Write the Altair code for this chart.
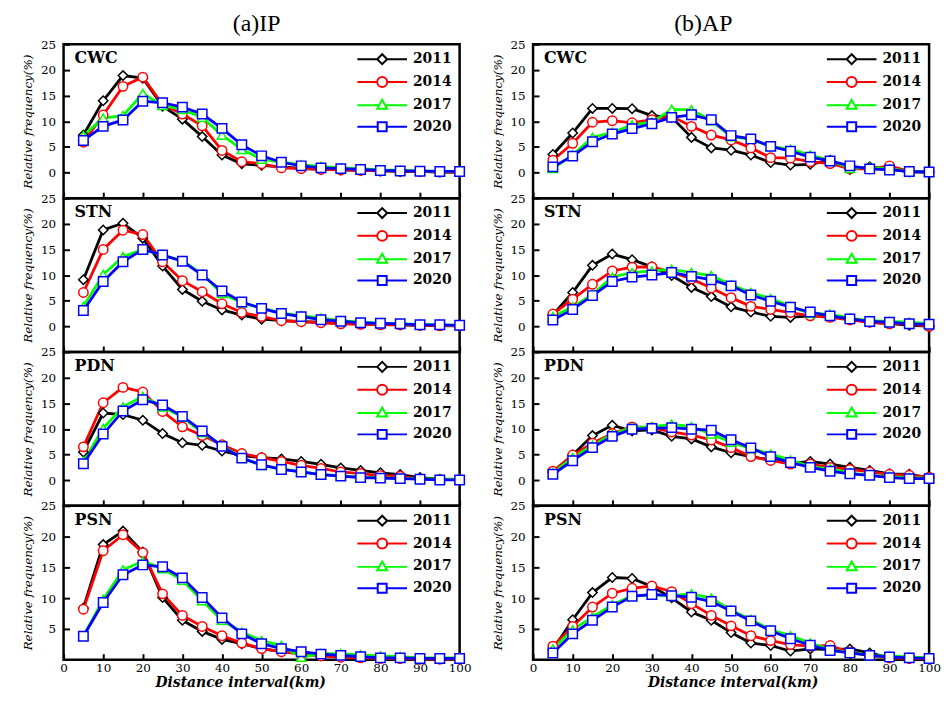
import altair as alt
import pandas as pd

# ---------------- data ----------------
distance = list(range(5, 101, 5))
years = ["2011", "2014", "2017", "2020"]
line_colors = ["#000000", "#ff0000", "#00ff00", "#0000ff"]
marker_shapes = ["diamond", "circle", "triangle-up", "square"]
x_ticks = list(range(0, 101, 10))
y_ticks_upper = [0, 5, 10, 15, 20, 25]
y_ticks_lowest = [5, 10, 15, 20, 25]
row_names = ["CWC", "STN", "PDN", "PSN"]
column_titles = ["(a)IP", "(b)AP"]

# (a) IP
ip_cwc_2011 = [7.3, 14.0, 18.9, 18.4, 12.9, 10.4, 7.0, 3.4, 1.7, 1.4, 1.1, 0.8, 0.6, 0.5, 0.4, 0.3, 0.2, 0.2, 0.1, 0.1]
ip_cwc_2014 = [5.9, 11.2, 16.8, 18.6, 13.25, 11.4, 9.1, 4.3, 2.1, 1.7, 0.9, 0.75, 0.6, 0.5, 0.4, 0.3, 0.25, 0.2, 0.1, 0.1]
ip_cwc_2017 = [7.2, 10.6, 11.1, 15.4, 13.1, 12.3, 10.75, 7.3, 4.5, 2.6, 2.0, 1.5, 1.2, 0.9, 0.75, 0.5, 0.4, 0.3, 0.2, 0.2]
ip_cwc_2020 = [6.25, 9.0, 10.25, 13.9, 13.6, 12.75, 11.4, 8.6, 5.4, 3.25, 2.0, 1.3, 0.9, 0.75, 0.6, 0.4, 0.3, 0.25, 0.2, 0.2]

ip_stn_2011 = [9.1, 18.8, 20.1, 17.2, 11.75, 7.2, 4.9, 3.2, 2.2, 1.4, 1.1, 0.9, 0.8, 0.6, 0.5, 0.4, 0.3, 0.2, 0.2, 0.1]
ip_stn_2014 = [6.6, 15.0, 18.75, 17.9, 12.6, 8.9, 6.75, 4.4, 2.7, 1.9, 1.1, 0.9, 0.7, 0.5, 0.4, 0.3, 0.3, 0.2, 0.1, 0.1]
ip_stn_2017 = [3.9, 10.1, 13.6, 15.0, 13.9, 12.8, 10.2, 6.4, 4.6, 3.6, 2.6, 2.1, 1.6, 1.1, 0.8, 0.6, 0.5, 0.4, 0.3, 0.2]
ip_stn_2020 = [3.1, 8.75, 12.6, 15.0, 13.9, 12.7, 10.0, 6.9, 4.75, 3.5, 2.5, 1.9, 1.3, 1.0, 0.7, 0.6, 0.5, 0.3, 0.3, 0.2]

ip_pdn_2011 = [5.5, 13.1, 12.8, 11.7, 9.1, 7.3, 6.8, 5.7, 4.8, 4.4, 4.15, 3.65, 3.1, 2.4, 1.9, 1.45, 1.1, 0.5, 0.2, 0.1]
ip_pdn_2014 = [6.5, 15.1, 18.1, 17.2, 13.4, 10.4, 8.7, 6.9, 5.2, 4.4, 3.65, 2.9, 2.3, 1.6, 1.3, 0.9, 0.8, 0.2, 0.1, 0.1]
ip_pdn_2017 = [3.65, 10.1, 14.3, 16.35, 14.3, 12.3, 9.3, 6.8, 4.3, 2.9, 2.2, 1.6, 1.1, 0.9, 0.6, 0.5, 0.3, 0.3, 0.2, 0.2]
ip_pdn_2020 = [3.2, 9.0, 13.5, 15.7, 14.65, 12.45, 9.6, 6.6, 4.3, 3.0, 2.1, 1.6, 1.1, 0.8, 0.5, 0.4, 0.3, 0.2, 0.05, 0.05]

ip_psn_2011 = [8.4, 18.7, 20.9, 17.5, 10.1, 6.4, 4.6, 3.3, 2.6, 1.8, 1.3, 1.0, 0.8, 0.5, 0.4, 0.3, 0.2, 0.1, 0.1, 0.1]
ip_psn_2014 = [8.2, 17.7, 20.3, 17.4, 10.7, 7.2, 5.4, 3.9, 2.7, 1.8, 1.3, 0.9, 0.6, 0.4, 0.3, 0.2, 0.2, 0.1, 0.1, 0.1]
ip_psn_2017 = [3.8, 9.8, 14.6, 16.0, 14.8, 12.9, 9.6, 6.4, 4.5, 3.1, 2.3, 0.4, 1.0, 1.0, 0.8, 0.6, 0.5, 0.3, 0.3, 0.3]
ip_psn_2020 = [3.8, 9.3, 13.8, 15.4, 15.1, 13.3, 10.1, 6.8, 4.2, 2.6, 1.8, 1.3, 0.9, 0.7, 0.5, 0.3, 0.3, 0.2, 0.2, 0.2]

# (b) AP
ap_cwc_2011 = [3.5, 7.7, 12.5, 12.5, 12.45, 11.1, 10.75, 6.85, 4.8, 4.35, 3.4, 1.95, 1.45, 1.6, 2.4, 0.6, 1.1, 0.8, 0.1, 0.1]
ap_cwc_2014 = [2.4, 5.7, 9.8, 10.1, 9.7, 10.3, 10.95, 9.0, 7.3, 6.35, 4.8, 2.9, 2.8, 2.1, 1.75, 0.7, 0.7, 1.3, 0.25, 0.1]
ap_cwc_2017 = [0.8, 3.4, 6.85, 7.8, 9.3, 9.8, 12.3, 12.2, 10.1, 7.0, 6.5, 5.1, 4.5, 3.4, 2.4, 0.8, 1.0, 0.7, 0.25, 0.1]
ap_cwc_2020 = [1.1, 3.2, 6.0, 7.5, 8.55, 9.5, 10.75, 11.25, 10.3, 7.2, 6.55, 5.1, 4.15, 3.0, 2.25, 1.3, 0.7, 0.5, 0.2, 0.1]

ap_stn_2011 = [2.25, 6.6, 11.9, 14.1, 13.0, 11.6, 9.9, 7.6, 5.8, 3.8, 2.8, 1.95, 1.75, 2.05, 2.05, 1.45, 0.8, 0.6, 0.2, 0.05]
ap_stn_2014 = [2.4, 5.3, 8.2, 10.8, 11.55, 11.6, 10.6, 9.25, 7.5, 5.6, 3.9, 3.3, 2.7, 2.05, 1.75, 1.25, 0.8, 0.5, 0.5, 0.0]
ap_stn_2017 = [1.9, 3.8, 6.25, 9.6, 10.5, 10.8, 11.1, 10.5, 9.9, 8.1, 6.6, 5.4, 3.9, 2.5, 2.4, 1.6, 1.1, 0.95, 0.8, 0.5]
ap_stn_2020 = [1.25, 3.3, 6.0, 8.75, 9.6, 10.0, 10.5, 9.75, 9.1, 7.9, 6.1, 4.9, 3.75, 2.8, 2.05, 1.45, 0.95, 0.8, 0.5, 0.4]

ap_pdn_2011 = [1.45, 4.9, 8.7, 10.7, 9.6, 9.8, 8.55, 8.05, 6.5, 5.35, 4.6, 3.95, 3.3, 3.65, 3.15, 2.5, 1.9, 1.25, 1.15, 0.5]
ap_pdn_2014 = [1.75, 4.9, 7.2, 9.1, 10.4, 10.25, 9.4, 8.8, 7.85, 6.35, 4.6, 3.85, 3.15, 3.15, 2.5, 2.1, 1.6, 1.15, 0.95, 0.6]
ap_pdn_2017 = [1.45, 4.4, 6.8, 9.0, 10.25, 10.45, 10.9, 10.45, 9.0, 7.4, 6.15, 5.1, 3.95, 2.6, 2.2, 1.45, 0.95, 0.7, 0.5, 0.4]
ap_pdn_2020 = [1.15, 3.8, 6.35, 8.55, 9.95, 10.1, 10.25, 9.95, 9.75, 7.9, 6.3, 4.6, 3.45, 2.5, 1.75, 1.25, 0.95, 0.5, 0.3, 0.3]

ap_psn_2011 = [1.65, 6.5, 10.9, 13.35, 13.2, 11.9, 10.05, 7.75, 6.4, 4.4, 2.7, 2.3, 1.4, 1.75, 1.65, 1.75, 1.1, 0.3, 0.2, 0.15]
ap_psn_2014 = [2.2, 5.4, 8.55, 10.8, 11.6, 12.0, 11.05, 9.1, 7.2, 5.5, 3.9, 3.1, 2.45, 2.2, 2.3, 1.2, 0.7, 0.3, 0.2, 0.15]
ap_psn_2017 = [1.75, 4.85, 6.95, 8.9, 10.4, 10.5, 10.4, 10.7, 10.0, 8.05, 6.55, 4.85, 3.9, 2.7, 1.65, 1.2, 0.7, 0.6, 0.45, 0.3]
ap_psn_2020 = [1.1, 4.2, 6.4, 8.55, 10.3, 10.6, 10.4, 10.15, 9.45, 7.9, 6.3, 4.7, 3.4, 2.35, 1.5, 1.1, 0.7, 0.45, 0.3, 0.2]

ip_series = [
    [ip_cwc_2011, ip_cwc_2014, ip_cwc_2017, ip_cwc_2020],
    [ip_stn_2011, ip_stn_2014, ip_stn_2017, ip_stn_2020],
    [ip_pdn_2011, ip_pdn_2014, ip_pdn_2017, ip_pdn_2020],
    [ip_psn_2011, ip_psn_2014, ip_psn_2017, ip_psn_2020],
]
ap_series = [
    [ap_cwc_2011, ap_cwc_2014, ap_cwc_2017, ap_cwc_2020],
    [ap_stn_2011, ap_stn_2014, ap_stn_2017, ap_stn_2020],
    [ap_pdn_2011, ap_pdn_2014, ap_pdn_2017, ap_pdn_2020],
    [ap_psn_2011, ap_psn_2014, ap_psn_2017, ap_psn_2020],
]

# legend symbols: a line stub with the marker in the middle
legend_shapes = [
    "M-5,0H-1M1,0H5M-1,0L0,-1L1,0L0,1Z",
    "M-5,0H-1M1,0H5M-1,0A1,1 0 1,0 1,0A1,1 0 1,0 -1,0Z",
    "M-5,0.1H-0.62M0.62,0.1H5M0,-1L1,0.8L-1,0.8Z",
    "M-5,0H-0.9M0.9,0H5M-0.9,-0.9H0.9V0.9H-0.9Z",
]

SERIF = "DejaVu Serif"
TITLE_SERIF = "Liberation Serif"
INWARD = alt.ExprRef(expr="-6")
PANEL_W = 399
PANEL_H = 155


def make_panel(name, series, bottom, col_title=None, title_dx=0, xtitle_x=200):
    rows = []
    for yr, vals in zip(years, series):
        for d, v in zip(distance, vals):
            rows.append({"distance": d, "freq": v, "year": yr})
    df = pd.DataFrame(rows)

    x_axis_kw = dict(values=x_ticks, labels=bottom, tickSize=INWARD, tickColor="black",
                     tickWidth=2, domain=False, grid=False, labelFont=SERIF,
                     labelFontSize=12, labelColor="black", labelPadding=9,
                     labelFlush=False)
    if bottom:
        x_axis_kw.update(title="Distance interval(km)", titleFont=SERIF, titleFontSize=14,
                         titleFontStyle="italic", titleFontWeight="bold", titleColor="black",
                         titlePadding=2, titleX=xtitle_x, titleAlign="center")
    x_axis = alt.Axis(**x_axis_kw)
    x_enc = alt.X("distance:Q", scale=alt.Scale(domain=[0, 100], nice=False, zero=False),
                  axis=x_axis, title="Distance interval(km)" if bottom else None)

    y_dom = [0, 25] if bottom else [-5, 25]
    y_vals = y_ticks_lowest if bottom else y_ticks_upper
    y_axis = alt.Axis(values=y_vals, tickSize=INWARD, tickColor="black", tickWidth=2,
                      domain=False, grid=False, labelFont=SERIF, labelFontSize=12,
                      labelColor="black", labelPadding=14, labelFlush=False,
                      titleFont=SERIF, titleFontSize=12, titleFontStyle="italic",
                      titleFontWeight="normal", titleColor="black", titlePadding=6)
    y_enc = alt.Y("freq:Q", scale=alt.Scale(domain=y_dom, nice=False, zero=False),
                  axis=y_axis, title="Relative frequency(%)")

    color_scale = alt.Scale(domain=years, range=line_colors)

    base = alt.Chart(df)
    lines = base.mark_line(strokeWidth=2.8).encode(
        x=x_enc, y=y_enc,
        color=alt.Color("year:N", scale=color_scale, legend=None),
        detail="year:N",
    )
    points = base.mark_point(filled=False, fill="white", size=90, strokeWidth=1.5,
                             opacity=1).encode(
        x=x_enc, y=y_enc,
        color=alt.Color("year:N", scale=color_scale, legend=None),
        shape=alt.Shape("year:N", scale=alt.Scale(domain=years, range=marker_shapes),
                        legend=None),
    )
    leg = alt.Legend(title=None, orient="top-right", offset=8, padding=0,
                     symbolSize=100, symbolStrokeWidth=2, labelFont=SERIF,
                     labelFontSize=14, labelFontWeight="bold", labelColor="black",
                     labelOffset=24, rowPadding=5)
    legend_layer = base.transform_filter("datum.freq < -100").mark_point(
        filled=False, strokeWidth=2, opacity=1).encode(
        x=x_enc, y=y_enc,
        color=alt.Color("year:N", scale=color_scale, legend=leg),
        shape=alt.Shape("year:N", scale=alt.Scale(domain=years, range=legend_shapes),
                        legend=leg),
    )
    label = alt.Chart(pd.DataFrame({"label": [name]})).mark_text(
        align="left", baseline="middle", font=SERIF, fontSize=16, fontWeight="bold",
        color="black").encode(text="label:N", x=alt.value(11), y=alt.value(14))

    props = dict(width=PANEL_W, height=PANEL_H)
    if col_title:
        props["title"] = alt.TitleParams(text=col_title, font=TITLE_SERIF, fontSize=24,
                                         fontWeight="normal", color="black",
                                         anchor="middle", frame="group", offset=2,
                                         dx=title_dx)
    return alt.layer(lines, points, legend_layer, label).resolve_scale(
        color="independent", shape="independent").properties(**props)


def make_column(series_list, col_title, title_dx, xtitle_x):
    panels = []
    for i, (nm, ser) in enumerate(zip(row_names, series_list)):
        panels.append(make_panel(nm, ser, bottom=(i == 3),
                                 col_title=col_title if i == 0 else None,
                                 title_dx=title_dx, xtitle_x=xtitle_x))
    return alt.vconcat(*panels, spacing=0, bounds="flush").resolve_scale(
        color="independent", shape="independent").resolve_legend(
        color="independent", shape="independent")


chart = alt.hconcat(
    make_column(ip_series, column_titles[0], -5, 178),
    make_column(ap_series, column_titles[1], -28, 201),
    spacing=17,
).resolve_scale(color="independent", shape="independent").resolve_legend(
    color="independent", shape="independent"
).configure_view(stroke="black", strokeWidth=2.5).properties(
    background="white", padding={"left": 12, "top": 0, "right": 0, "bottom": 0})

chart.save("out.html", embed_options={"renderer": "svg", "actions": False})
